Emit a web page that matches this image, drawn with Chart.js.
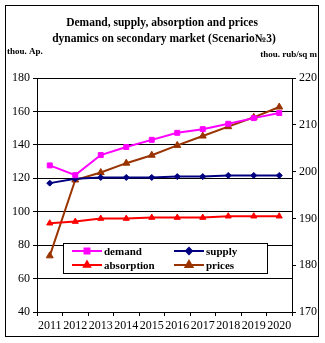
<!DOCTYPE html>
<html>
<head>
<meta charset="utf-8">
<script src="https://cdn.jsdelivr.net/npm/chart.js@4/dist/chart.umd.min.js"></script>
<style>
html,body{margin:0;padding:0;background:#fff;}
#wrap{width:325px;height:343px;position:relative;}
</style>
</head>
<body>
<div id="wrap"><canvas id="c" width="325" height="343"></canvas></div>
<script>
const years = ['2011','2012','2013','2014','2015','2016','2017','2018','2019','2020'];
const demand = [127.7, 121.9, 133.9, 138.7, 143.0, 147.2, 149.4, 152.6, 156.0, 159.0];
const supply = [117.1, 119.7, 120.5, 120.5, 120.5, 121.0, 121.0, 121.7, 121.7, 121.7];
const absorption = [93.1, 94.1, 95.9, 95.9, 96.5, 96.5, 96.5, 97.3, 97.3, 97.3];
const prices = [182.0, 198.2, 199.8, 201.8, 203.5, 205.6, 207.6, 209.6, 211.6, 213.8];
const titleLines = ['Demand, supply, absorption and prices', 'dynamics on secondary market (Scenario\u21163)'];
const leftUnit = 'thou. Ap.';
const rightUnit = 'thou. rub/sq m';

const FONT = '"Liberation Serif", "Times New Roman", serif';

const series = [
  {label:'demand', data:demand, color:'#FF00FF', style:'rect', r:3.5, axis:'y'},
  {label:'supply', data:supply, color:'#000080', style:'rectRot', r:3, axis:'y'},
  {label:'absorption', data:absorption, color:'#FF0000', style:'triangle', r:3.5, axis:'y'},
  {label:'prices', data:prices, color:'#993300', style:'triangle', r:4, axis:'y2'}
];

const decor = {
  id:'decor',
  beforeDraw(chart){
    const ctx = chart.ctx;
    ctx.save();
    ctx.fillStyle='#fff';
    ctx.fillRect(0,0,chart.width,chart.height);
    ctx.restore();
  },
  afterDraw(chart){
    const ctx = chart.ctx;
    ctx.save();
    ctx.strokeStyle='#000';
    ctx.lineWidth=1;
    ctx.strokeRect(5.5,5.5,313,331);
    ctx.fillStyle='#000';
    ctx.font='bold 11.5px '+FONT;
    ctx.textAlign='center';
    ctx.textBaseline='middle';
    ctx.fillText(titleLines[0],162,23);
    ctx.fillText(titleLines[1],164,39);
    ctx.font='bold 9px '+FONT;
    ctx.textAlign='left';
    ctx.fillText(leftUnit,7,52);
    ctx.textAlign='right';
    ctx.fillText(rightUnit,317,55);
    const lx=63, ly=243, lw=204, lh=30;
    ctx.fillStyle='#fff';
    ctx.fillRect(lx,ly,lw,lh);
    ctx.strokeStyle='#000';
    ctx.lineWidth=1;
    ctx.strokeRect(lx+0.5,ly+0.5,lw,lh);
    const pos=[[72,251],[174,251],[72,265],[174,265]];
    ctx.font='bold 11px '+FONT;
    ctx.textBaseline='middle';
    ctx.textAlign='left';
    series.forEach((s,i)=>{
      const [x,y]=pos[i];
      ctx.strokeStyle=s.color;
      ctx.lineWidth=2;
      ctx.beginPath();ctx.moveTo(x,y);ctx.lineTo(x+30,y);ctx.stroke();
      ctx.fillStyle=s.color;
      ctx.strokeStyle=s.color;
      Chart.helpers.drawPoint(ctx,{pointStyle:s.style,radius:s.r,borderWidth:1},x+15,y);
      ctx.fillStyle='#000';
      ctx.fillText(s.label,x+32,y+1);
    });
    ctx.restore();
  }
};

new Chart(document.getElementById('c'),{
  type:'line',
  data:{
    labels:years,
    datasets:series.map(s=>({
      label:s.label,
      data:s.data,
      yAxisID:s.axis,
      borderColor:s.color,
      backgroundColor:s.color,
      borderWidth:2,
      pointStyle:s.style,
      pointRadius:s.r,
      pointBorderWidth:1,
      tension:0,
      fill:false
    }))
  },
  options:{
    responsive:false,
    animation:false,
    layout:{padding:{top:78,left:0,right:0,bottom:0}},
    plugins:{legend:{display:false},title:{display:false},tooltip:{enabled:false}},
    scales:{
      x:{
        offset:true,
        grid:{offset:true,drawOnChartArea:false,drawTicks:true,tickLength:4,color:'#000',lineWidth:1},
        border:{color:'#000',width:1},
        ticks:{color:'#000',font:{family:FONT,size:12},maxRotation:0,minRotation:0,autoSkip:false,padding:3},
        afterFit(s){s.height=31;}
      },
      y:{
        position:'left',
        min:40,max:180,
        grid:{color:'#000',lineWidth:1,tickLength:4,drawTicks:true},
        border:{color:'#000',width:1},
        ticks:{stepSize:20,color:'#000',font:{family:FONT,size:12},padding:3},
        afterFit(s){s.width=37;}
      },
      y2:{
        position:'right',
        min:170,max:220,
        grid:{drawOnChartArea:false,tickLength:4,color:'#000',lineWidth:1},
        border:{color:'#000',width:1},
        ticks:{stepSize:10,color:'#000',font:{family:FONT,size:12},padding:3},
        afterFit(s){s.width=33;}
      }
    }
  },
  plugins:[decor]
});
</script>
</body>
</html>
